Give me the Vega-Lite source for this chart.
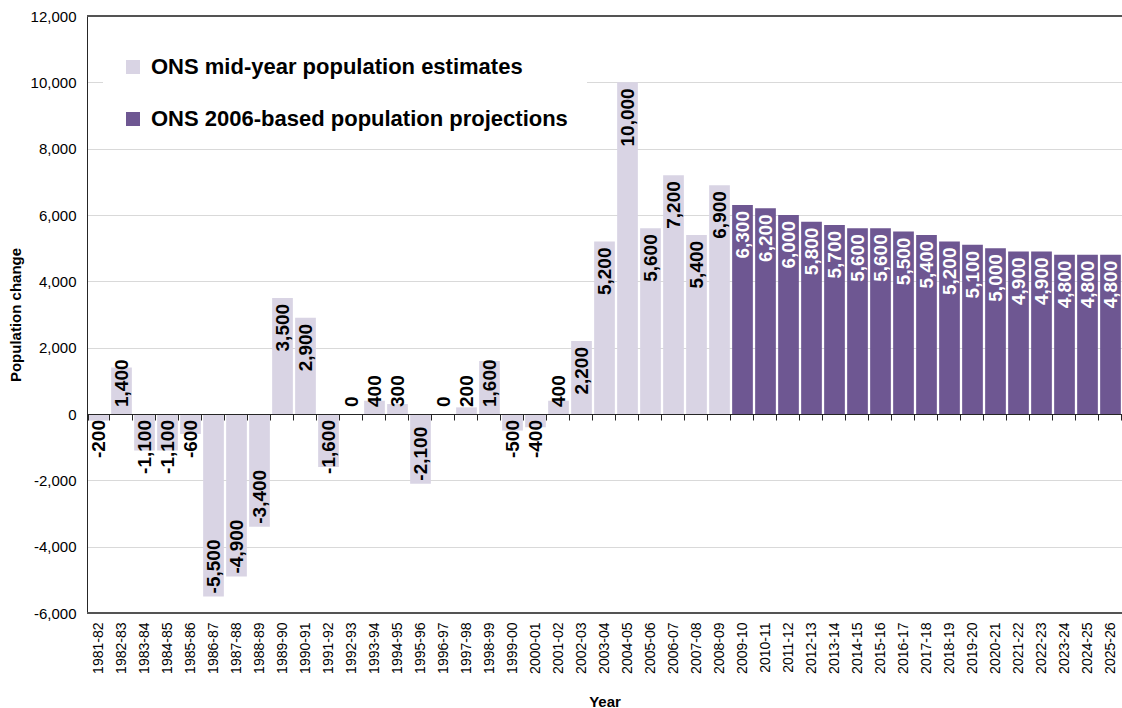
{
  "$schema": "https://vega.github.io/schema/vega-lite/v6.json",
  "width": 1035,
  "height": 597,
  "autosize": {"type": "none"},
  "padding": {"left": 87, "top": 16, "right": 0, "bottom": 95},
  "config": {
    "font": "Liberation Sans",
    "view": {"stroke": null},
    "locale": {
      "number": {"decimal": ".", "thousands": ",", "grouping": [3], "currency": ["£", ""], "minus": "-"}
    }
  },
  "data": {
    "values": [
      {"Year": "1981-82", "Change": -200, "Series": "ONS mid-year population estimates"},
      {"Year": "1982-83", "Change": 1400, "Series": "ONS mid-year population estimates"},
      {"Year": "1983-84", "Change": -1100, "Series": "ONS mid-year population estimates"},
      {"Year": "1984-85", "Change": -1100, "Series": "ONS mid-year population estimates"},
      {"Year": "1985-86", "Change": -600, "Series": "ONS mid-year population estimates"},
      {"Year": "1986-87", "Change": -5500, "Series": "ONS mid-year population estimates"},
      {"Year": "1987-88", "Change": -4900, "Series": "ONS mid-year population estimates"},
      {"Year": "1988-89", "Change": -3400, "Series": "ONS mid-year population estimates"},
      {"Year": "1989-90", "Change": 3500, "Series": "ONS mid-year population estimates"},
      {"Year": "1990-91", "Change": 2900, "Series": "ONS mid-year population estimates"},
      {"Year": "1991-92", "Change": -1600, "Series": "ONS mid-year population estimates"},
      {"Year": "1992-93", "Change": 0, "Series": "ONS mid-year population estimates"},
      {"Year": "1993-94", "Change": 400, "Series": "ONS mid-year population estimates"},
      {"Year": "1994-95", "Change": 300, "Series": "ONS mid-year population estimates"},
      {"Year": "1995-96", "Change": -2100, "Series": "ONS mid-year population estimates"},
      {"Year": "1996-97", "Change": 0, "Series": "ONS mid-year population estimates"},
      {"Year": "1997-98", "Change": 200, "Series": "ONS mid-year population estimates"},
      {"Year": "1998-99", "Change": 1600, "Series": "ONS mid-year population estimates"},
      {"Year": "1999-00", "Change": -500, "Series": "ONS mid-year population estimates"},
      {"Year": "2000-01", "Change": -400, "Series": "ONS mid-year population estimates"},
      {"Year": "2001-02", "Change": 400, "Series": "ONS mid-year population estimates"},
      {"Year": "2002-03", "Change": 2200, "Series": "ONS mid-year population estimates"},
      {"Year": "2003-04", "Change": 5200, "Series": "ONS mid-year population estimates"},
      {"Year": "2004-05", "Change": 10000, "Series": "ONS mid-year population estimates"},
      {"Year": "2005-06", "Change": 5600, "Series": "ONS mid-year population estimates"},
      {"Year": "2006-07", "Change": 7200, "Series": "ONS mid-year population estimates"},
      {"Year": "2007-08", "Change": 5400, "Series": "ONS mid-year population estimates"},
      {"Year": "2008-09", "Change": 6900, "Series": "ONS mid-year population estimates"},
      {"Year": "2009-10", "Change": 6300, "Series": "ONS 2006-based population projections"},
      {"Year": "2010-11", "Change": 6200, "Series": "ONS 2006-based population projections"},
      {"Year": "2011-12", "Change": 6000, "Series": "ONS 2006-based population projections"},
      {"Year": "2012-13", "Change": 5800, "Series": "ONS 2006-based population projections"},
      {"Year": "2013-14", "Change": 5700, "Series": "ONS 2006-based population projections"},
      {"Year": "2014-15", "Change": 5600, "Series": "ONS 2006-based population projections"},
      {"Year": "2015-16", "Change": 5600, "Series": "ONS 2006-based population projections"},
      {"Year": "2016-17", "Change": 5500, "Series": "ONS 2006-based population projections"},
      {"Year": "2017-18", "Change": 5400, "Series": "ONS 2006-based population projections"},
      {"Year": "2018-19", "Change": 5200, "Series": "ONS 2006-based population projections"},
      {"Year": "2019-20", "Change": 5100, "Series": "ONS 2006-based population projections"},
      {"Year": "2020-21", "Change": 5000, "Series": "ONS 2006-based population projections"},
      {"Year": "2021-22", "Change": 4900, "Series": "ONS 2006-based population projections"},
      {"Year": "2022-23", "Change": 4900, "Series": "ONS 2006-based population projections"},
      {"Year": "2023-24", "Change": 4800, "Series": "ONS 2006-based population projections"},
      {"Year": "2024-25", "Change": 4800, "Series": "ONS 2006-based population projections"},
      {"Year": "2025-26", "Change": 4800, "Series": "ONS 2006-based population projections"}
    ]
  },
  "layer": [
    {
      "mark": {"type": "bar"},
      "encoding": {
        "x": {
          "field": "Year",
          "type": "nominal",
          "sort": null,
          "scale": {"paddingInner": 0.1, "paddingOuter": 0.05},
          "axis": {
            "title": "Year",
            "titleFont": "Liberation Sans",
            "titleFontSize": 15,
            "titleFontWeight": "bold",
            "titleColor": "#000000",
            "titlePadding": 80,
            "offset": -199,
            "zindex": 1,
            "grid": false,
            "domain": true,
            "domainColor": "#262626",
            "domainWidth": 1,
            "ticks": true,
            "tickBand": "extent",
            "tickSize": 6,
            "tickWidth": 1,
            "tickColor": "#262626",
            "labelAngle": -90,
            "labelFont": "Liberation Sans",
            "labelFontSize": 14,
            "labelColor": "#000000",
            "labelPadding": 202,
            "labelOverlap": false
          }
        },
        "y": {
          "field": "Change",
          "type": "quantitative",
          "scale": {"domain": [-6000, 12000], "nice": false, "zero": false},
          "axis": {
            "title": "Population change",
            "titleFont": "Liberation Sans",
            "titleFontSize": 15,
            "titleFontWeight": "bold",
            "titleColor": "#000000",
            "titlePadding": 7,
            "values": [-6000, -4000, -2000, 0, 2000, 4000, 6000, 8000, 10000, 12000],
            "labelExpr": "format(datum.value, ',')",
            "labelFont": "Liberation Sans",
            "labelFontSize": 15,
            "labelColor": "#000000",
            "labelPadding": 11,
            "ticks": false,
            "domainColor": "#262626",
            "grid": true,
            "gridColor": "#d9d9d9",
            "gridWidth": 1
          }
        },
        "color": {
          "field": "Series",
          "type": "nominal",
          "scale": {
            "domain": ["ONS mid-year population estimates", "ONS 2006-based population projections"],
            "range": ["#d9d4e4", "#6e5792"]
          },
          "legend": {
            "title": null,
            "orient": "none",
            "legendX": 16,
            "legendY": 21,
            "fillColor": "#ffffff",
            "padding": 19,
            "symbolType": "square",
            "symbolSize": 196,
            "symbolStrokeWidth": 0,
            "symbolOpacity": 1,
            "labelFont": "Liberation Sans",
            "labelFontSize": 22,
            "labelFontWeight": "bold",
            "labelColor": "#000000",
            "labelLimit": 700,
            "labelOffset": 7,
            "rowPadding": 30
          }
        }
      }
    },
    {
      "mark": {"type": "rule", "color": "#555555", "strokeWidth": 1.5},
      "encoding": {"y": {"datum": 12000, "type": "quantitative", "title": "Population change"}}
    },
    {
      "mark": {"type": "rule", "color": "#555555", "strokeWidth": 1.5},
      "encoding": {"y": {"datum": -6000, "type": "quantitative", "title": "Population change"}}
    },
    {
      "transform": [{"filter": "datum.Change >= 2000"}],
      "mark": {"type": "text", "angle": 270, "align": "right", "baseline": "middle", "dx": -6, "font": "Liberation Sans", "fontSize": 19, "fontWeight": "bold"},
      "encoding": {
        "x": {"field": "Year", "type": "nominal", "sort": null, "title": "Year"},
        "y": {"field": "Change", "type": "quantitative", "title": "Population change"},
        "text": {"field": "Change", "type": "quantitative", "format": ","},
        "color": {
          "condition": {"test": "datum.Series === 'ONS 2006-based population projections'", "value": "#ffffff"},
          "value": "#000000"
        }
      }
    },
    {
      "transform": [{"filter": "datum.Change >= 0 && datum.Change < 2000"}],
      "mark": {"type": "text", "angle": 270, "align": "left", "baseline": "middle", "dx": 7, "font": "Liberation Sans", "fontSize": 19, "fontWeight": "bold", "color": "#000000"},
      "encoding": {
        "x": {"field": "Year", "type": "nominal", "sort": null, "title": "Year"},
        "y": {"datum": 0, "type": "quantitative", "title": "Population change"},
        "text": {"field": "Change", "type": "quantitative", "format": ","}
      }
    },
    {
      "transform": [{"filter": "datum.Change < 0 && datum.Change > -2000"}],
      "mark": {"type": "text", "angle": 270, "align": "right", "baseline": "middle", "dx": -6, "font": "Liberation Sans", "fontSize": 19, "fontWeight": "bold", "color": "#000000"},
      "encoding": {
        "x": {"field": "Year", "type": "nominal", "sort": null, "title": "Year"},
        "y": {"datum": 0, "type": "quantitative", "title": "Population change"},
        "text": {"field": "Change", "type": "quantitative", "format": ","}
      }
    },
    {
      "transform": [{"filter": "datum.Change <= -2000"}],
      "mark": {"type": "text", "angle": 270, "align": "left", "baseline": "middle", "dx": 3, "font": "Liberation Sans", "fontSize": 19, "fontWeight": "bold", "color": "#000000"},
      "encoding": {
        "x": {"field": "Year", "type": "nominal", "sort": null, "title": "Year"},
        "y": {"field": "Change", "type": "quantitative", "title": "Population change"},
        "text": {"field": "Change", "type": "quantitative", "format": ","}
      }
    }
  ]
}
